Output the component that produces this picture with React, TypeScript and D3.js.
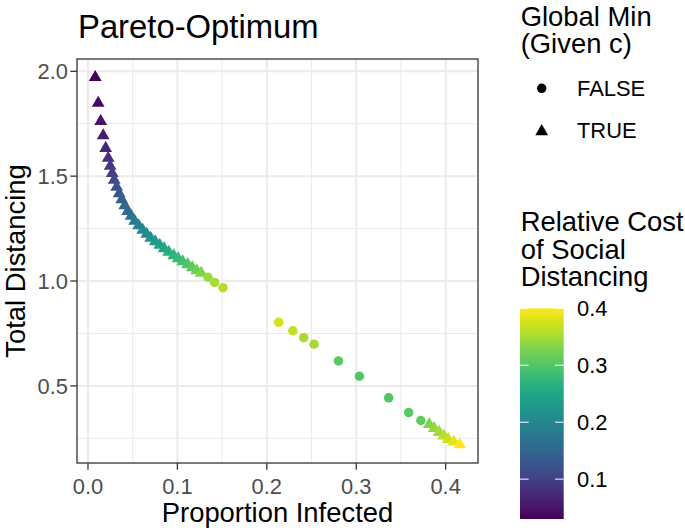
import React from "react";
import * as d3 from "d3";

// ---- data ----
// Global-minimum points (triangles)
const triX = [0.0081, 0.0114, 0.0142, 0.017, 0.0198, 0.0226, 0.0248, 0.0271, 0.0293, 0.0321, 0.0349, 0.0377, 0.0411, 0.0444, 0.0483, 0.0522, 0.0567, 0.0612, 0.0657, 0.0701, 0.0752, 0.0802, 0.0852, 0.0903, 0.0959, 0.1009, 0.1059, 0.1115, 0.1166, 0.1216, 0.1266, 0.3817, 0.3872, 0.3928, 0.3979, 0.4029, 0.4091, 0.4158];
const triY = [1.971, 1.848, 1.762, 1.693, 1.633, 1.586, 1.548, 1.514, 1.481, 1.448, 1.417, 1.388, 1.36, 1.333, 1.31, 1.286, 1.264, 1.243, 1.224, 1.205, 1.188, 1.171, 1.155, 1.138, 1.121, 1.107, 1.093, 1.079, 1.064, 1.05, 1.038, 0.317, 0.298, 0.279, 0.262, 0.245, 0.233, 0.22];
const triC = [0.03, 0.04, 0.05, 0.06, 0.07, 0.08, 0.09, 0.1, 0.11, 0.12, 0.13, 0.14, 0.15, 0.16, 0.17, 0.18, 0.19, 0.2, 0.21, 0.22, 0.23, 0.24, 0.25, 0.26, 0.27, 0.28, 0.29, 0.3, 0.31, 0.32, 0.33, 0.33, 0.34, 0.35, 0.36, 0.37, 0.385, 0.4];
// Local (non-global) minimum points (circles)
const cirX = [0.1342, 0.1417, 0.151, 0.2133, 0.229, 0.2413, 0.2528, 0.2801, 0.3036, 0.3363, 0.3587, 0.3722];
const cirY = [1.018, 0.993, 0.968, 0.803, 0.763, 0.73, 0.699, 0.619, 0.546, 0.443, 0.373, 0.335];
const cirC = [0.344, 0.35, 0.358, 0.375, 0.365, 0.355, 0.35, 0.305, 0.3, 0.3, 0.305, 0.31];

const xTicks = [0.0, 0.1, 0.2, 0.3, 0.4];
const yTicks = [0.5, 1.0, 1.5, 2.0];
const xMinor = [0.05, 0.15, 0.25, 0.35];
const yMinor = [0.25, 0.75, 1.25, 1.75];
const colorTicks = [0.1, 0.2, 0.3, 0.4];
const colorDomain = [0.03, 0.4];
const shapeLabels = ["FALSE", "TRUE"];
const shapeTitle = ["Global Min", "(Given c)"];
const colorTitle = ["Relative Cost", "of Social", "Distancing"];

const FONT = "'Liberation Sans', Arial, Helvetica, sans-serif";

export default function App() {
  const W = 685, H = 531;
  const left = 77, right = 478, top = 59, bottom = 463;

  const allX = [...triX, ...cirX];
  const allY = [...triY, ...cirY];
  const [x0, x1] = d3.extent(allX) as [number, number];
  const [y0, y1] = d3.extent(allY) as [number, number];
  const ex = (x1 - x0) * 0.05, ey = (y1 - y0) * 0.05;
  const x = d3.scaleLinear().domain([x0 - ex, x1 + ex]).range([left, right]);
  const y = d3.scaleLinear().domain([y0 - ey, y1 + ey]).range([bottom, top]);
  const col = (c: number) => d3.interpolateViridis((c - colorDomain[0]) / (colorDomain[1] - colorDomain[0]));

  const R = 4.75;
  const triPath = (cx: number, cy: number, r: number) => {
    const rr = 1.555 * r, xc = 1.347 * r, yc = 0.778 * r;
    return `M${cx},${cy - rr}L${cx + xc},${cy + yc}L${cx - xc},${cy + yc}Z`;
  };

  // colorbar
  const cbX = 520, cbW = 43.7, cbTop = 308.3, cbBot = 519;
  const cb = d3.scaleLinear().domain(colorDomain).range([cbBot, cbTop]);
  const stops = d3.range(0, 1.0001, 0.02);

  const axisGrey = "#4D4D4D";
  const grid = "#EBEBEB";
  const fsTitle = 32.8, fsLab = 27.4, fsTick = 21.9;

  return (
    <svg width={W} height={H} style={{ position: "absolute", left: 0, top: 0, background: "white" }} fontFamily={FONT}>
      <defs>
        <linearGradient id="vir" x1="0" y1="1" x2="0" y2="0">
          {stops.map((t, i) => (
            <stop key={i} offset={t} stopColor={d3.interpolateViridis(t)} />
          ))}
        </linearGradient>
        <clipPath id="panel">
          <rect x={left} y={top} width={right - left} height={bottom - top} />
        </clipPath>
      </defs>
      <rect x={0} y={0} width={W} height={H} fill="white" />
      {/* panel background & grid */}
      <rect x={left} y={top} width={right - left} height={bottom - top} fill="white" />
      <g clipPath="url(#panel)">
        {xMinor.map((v) => (
          <line key={"xm" + v} x1={x(v)} x2={x(v)} y1={top} y2={bottom} stroke={grid} strokeWidth={1} />
        ))}
        {yMinor.map((v) => (
          <line key={"ym" + v} x1={left} x2={right} y1={y(v)} y2={y(v)} stroke={grid} strokeWidth={1} />
        ))}
        {xTicks.map((v) => (
          <line key={"xg" + v} x1={x(v)} x2={x(v)} y1={top} y2={bottom} stroke={grid} strokeWidth={2} />
        ))}
        {yTicks.map((v) => (
          <line key={"yg" + v} x1={left} x2={right} y1={y(v)} y2={y(v)} stroke={grid} strokeWidth={2} />
        ))}
        {/* points */}
        {triX.map((v, i) => (
          <path key={"t" + i} d={triPath(x(v), y(triY[i]), R)} fill={col(triC[i])} />
        ))}
        {cirX.map((v, i) => (
          <circle key={"c" + i} cx={x(v)} cy={y(cirY[i])} r={R} fill={col(cirC[i])} />
        ))}
      </g>
      <rect x={left} y={top} width={right - left} height={bottom - top} fill="none" stroke="#333333" strokeWidth={1.3} />
      {/* axes ticks */}
      {xTicks.map((v) => (
        <g key={"xt" + v}>
          <line x1={x(v)} x2={x(v)} y1={bottom} y2={bottom + 6.7} stroke="#333333" strokeWidth={1.3} />
          <text x={x(v)} y={493.5} textAnchor="middle" fontSize={fsTick} fill={axisGrey}>
            {d3.format(".1f")(v)}
          </text>
        </g>
      ))}
      {yTicks.map((v) => (
        <g key={"yt" + v}>
          <line x1={left - 6.7} x2={left} y1={y(v)} y2={y(v)} stroke="#333333" strokeWidth={1.3} />
          <text x={68} y={y(v) + 7.8} textAnchor="end" fontSize={fsTick} fill={axisGrey}>
            {d3.format(".1f")(v)}
          </text>
        </g>
      ))}
      {/* axis titles */}
      <text x={(left + right) / 2} y={522} textAnchor="middle" fontSize={fsLab} fill="black">
        Proportion Infected
      </text>
      <text transform={`translate(25,${(top + bottom) / 2}) rotate(-90)`} textAnchor="middle" fontSize={fsLab} fill="black">
        Total Distancing
      </text>
      {/* title */}
      <text x={78} y={38} fontSize={fsTitle} fill="black">
        Pareto-Optimum
      </text>
      {/* shape legend */}
      {shapeTitle.map((s, i) => (
        <text key={s} x={520.7} y={25.5 + i * 27.5} fontSize={fsLab} fill="black">{s}</text>
      ))}
      <circle cx={541.7} cy={88.3} r={R} fill="black" />
      <path d={triPath(541.7, 131.5, R)} fill="black" />
      <text x={577} y={88.3 + 7.8} fontSize={fsTick} fill="black">{shapeLabels[0]}</text>
      <text x={577} y={130 + 7.8} fontSize={fsTick} fill="black">{shapeLabels[1]}</text>
      {/* colour legend */}
      {colorTitle.map((s, i) => (
        <text key={s} x={520.7} y={231 + i * 27.5} fontSize={fsLab} fill="black">{s}</text>
      ))}
      <rect x={cbX} y={cbTop} width={cbW} height={cbBot - cbTop} fill="url(#vir)" />
      {colorTicks.map((v) => (
        <g key={"ct" + v}>
          <line x1={cbX} x2={cbX + 8.7} y1={cb(v)} y2={cb(v)} stroke="white" strokeWidth={1} />
          <line x1={cbX + cbW - 8.7} x2={cbX + cbW} y1={cb(v)} y2={cb(v)} stroke="white" strokeWidth={1} />
          <text x={577} y={cb(v) + 7.8} fontSize={fsTick} fill="black">
            {d3.format(".1f")(v)}
          </text>
        </g>
      ))}
    </svg>
  );
}
